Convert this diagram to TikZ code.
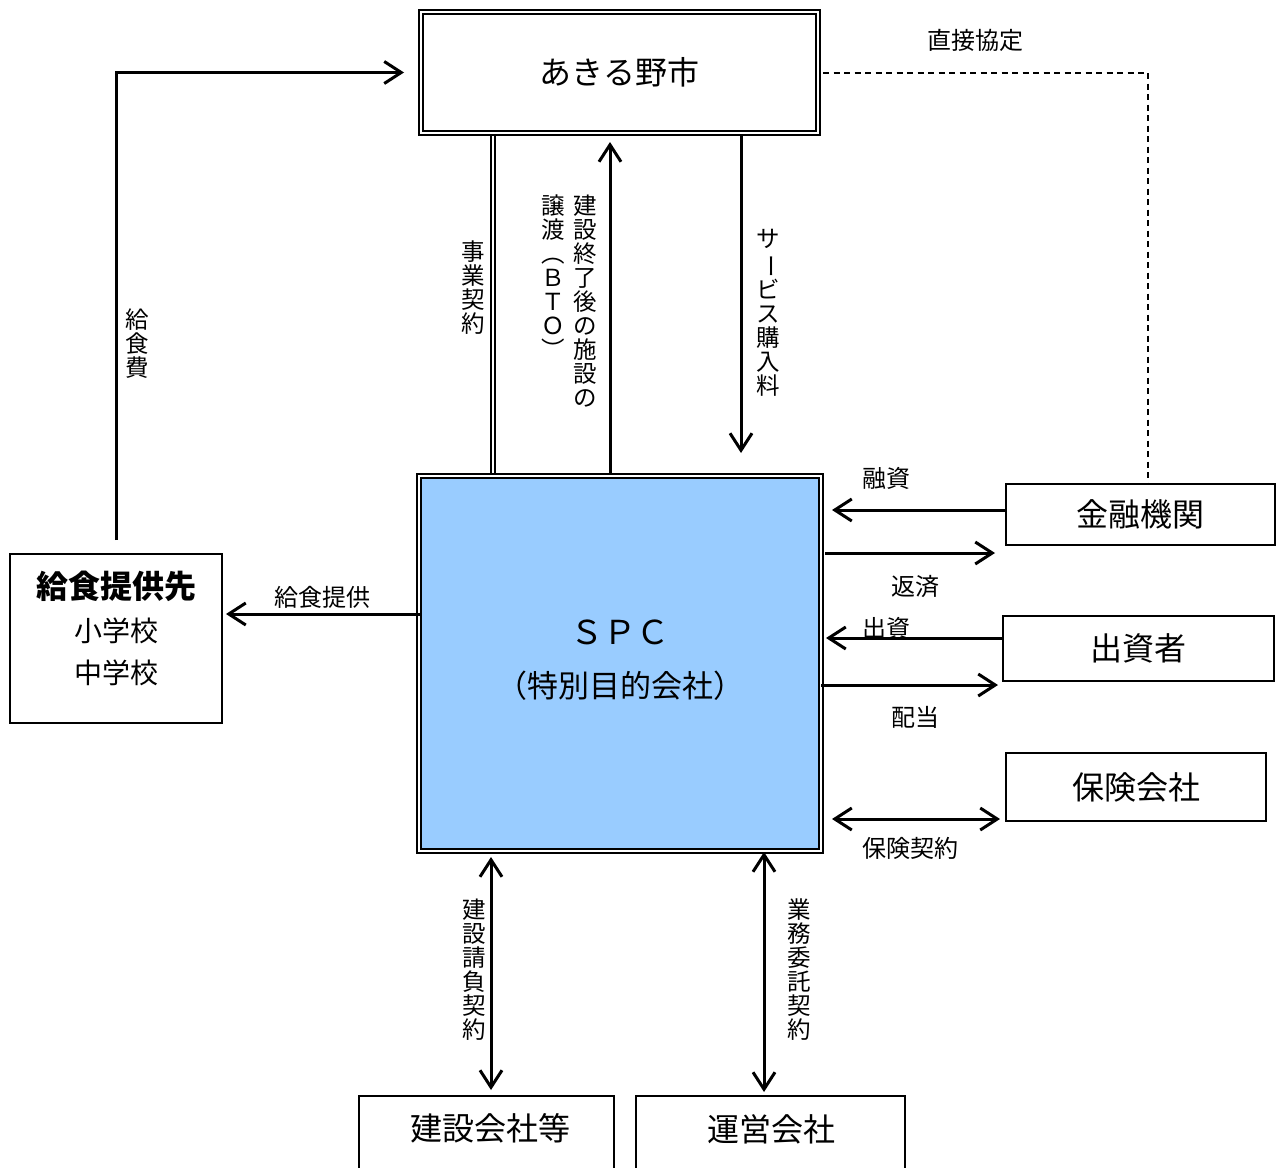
\documentclass[tikz,border=0pt]{standalone}
\usepackage{fontspec}
\setmainfont{Noto Sans CJK JP}
\usepackage{graphicx}
\usetikzlibrary{arrows.meta}
\definecolor{spcblue}{HTML}{99CCFF}
\begin{document}
\begin{tikzpicture}[x=1pt,y=-1pt,
  box/.style={draw, rectangle, line width=2.6pt, inner sep=0pt, outer sep=0pt},
  dbox/.style={draw, rectangle, double, double distance=1.5pt, line width=2.6pt, inner sep=0pt, outer sep=0pt},
  arr/.style={line width=3pt, -{Straight Barb[length=17pt,width=22pt]}},
  darr/.style={line width=3pt, {Straight Barb[length=17pt,width=22pt]}-{Straight Barb[length=17pt,width=22pt]}},
  dbl/.style={double, double distance=2.5pt, line width=2pt},
  dsh/.style={line width=2pt, dash pattern=on 6pt off 4.5pt},
  big/.style={font=\fontsize{32}{34}\selectfont},
  mid/.style={font=\fontsize{28}{30}\selectfont},
  lab/.style={font=\fontsize{24}{24}\selectfont, inner sep=0pt},
  vlab/.style={font=\fontsize{23.5}{24}\selectfont, align=center, inner sep=0pt}
]
\useasboundingbox (0,0) rectangle (1284,1167);
% helper coordinates
\coordinate (x491) at (491,0);
\coordinate (x493) at (493,0);
\coordinate (x610) at (610,0);
\coordinate (x741) at (741,0);
\coordinate (x764) at (764,0);
\coordinate (x1148) at (1148,0);
\coordinate (y510) at (0,510);
\coordinate (y553) at (0,553);
\coordinate (y614) at (0,614);
\coordinate (y638) at (0,638);
\coordinate (y685) at (0,685);
\coordinate (y819) at (0,819);

% boxes
\node[dbox, minimum width=397pt, minimum height=121pt, big] (city) at (619.5,72.5) {あきる野市};
\node[dbox, fill=spcblue, minimum width=402pt, minimum height=375pt] (spc) at (620,663.5) {};
\node[font=\fontsize{33}{34}\selectfont, inner sep=0pt] (spct) at (620,632) {ＳＰＣ};
\node[font=\fontsize{31}{34}\selectfont, inner sep=0pt] (spcs) at (620,686) {（特別目的会社）};
\node[box, minimum width=212pt, minimum height=169pt] (school) at (116,638.5) {};
\node[big, inner sep=0pt] (schoolt) at (116,586) {\bfseries 給食提供先};
\node[mid, inner sep=0pt] (sch1) at (116,631) {小学校};
\node[mid, inner sep=0pt] (sch2) at (116,673) {中学校};
\node[box, minimum width=269pt, minimum height=61pt, big] (fin) at (1140.5,514.5) {金融機関};
\node[box, minimum width=271pt, minimum height=65pt, big] (inv) at (1138.5,648.5) {出資者};
\node[box, minimum width=260pt, minimum height=68pt, big] (ins) at (1136,787) {保険会社};
\node[box, minimum width=255pt, minimum height=120pt] (cons) at (486.5,1156) {};
\node[big, inner sep=0pt] (const) at (490,1128) {建設会社等};
\node[box, minimum width=269pt, minimum height=120pt] (ops) at (770.5,1156) {};
\node[big, inner sep=0pt] (opst) at (771,1129) {運営会社};

% connectors
\draw[arr, shorten <=14pt, shorten >=17pt] (school.north) |- (city.west);
\draw[dbl, shorten <=3pt, shorten >=3pt] (city.south -| x493) -- (spc.north -| x493);
\draw[arr, shorten <=3pt, shorten >=9pt] (spc.north -| x610) -- (city.south -| x610);
\draw[arr, shorten <=3pt, shorten >=23pt] (city.south -| x741) -- (spc.north -| x741);
\draw[dsh, shorten <=5pt] (city.east) -| (fin.north -| x1148);
\draw[arr, shorten >=11pt] (fin.west |- y510) -- (spc.east |- y510);
\draw[arr, shorten <=4pt, shorten >=11pt] (spc.east |- y553) -- (fin.west |- y553);
\draw[arr, shorten >=5pt] (inv.west |- y638) -- (spc.east |- y638);
\draw[arr, shorten >=5pt] (spc.east |- y685) -- (inv.west |- y685);
\draw[darr, shorten <=11pt, shorten >=6pt] (spc.east |- y819) -- (ins.west |- y819);
\draw[arr, shorten <=-2pt, shorten >=4pt] (spc.west |- y614) -- (school.east |- y614);
\draw[darr, shorten <=6pt, shorten >=6pt] (spc.south -| x491) -- (cons.north -| x491);
\draw[darr, shorten <=1pt, shorten >=4pt] (spc.south -| x764) -- (ops.north -| x764);

% labels
\node[lab] (l1) at (975,40) {直接協定};
\node[lab] (l2) at (886,478) {融資};
\node[lab] (l3) at (915,586) {返済};
\node[lab] (l4) at (886,628) {出資};
\node[lab] (l5) at (915,717) {配当};
\node[lab] (l6) at (910,848) {保険契約};
\node[lab] (l7) at (322,597) {給食提供};
\node[vlab] (v1) at (473,288) {事\\業\\契\\約};
\node[vlab] (v2) at (585,301) {建\\設\\終\\了\\後\\の\\施\\設\\の};
\node[vlab] (v3) at (553,277) {譲\\渡\\︵\\Ｂ\\Ｔ\\Ｏ\\︶};
\node[vlab] (v4) at (768,312.5) {サ\\\rotatebox[origin=c]{-90}{ー}\\ビ\\ス\\購\\入\\料};
\node[vlab] (v5) at (137,344) {給\\食\\費};
\node[vlab] (v6) at (474,970) {建\\設\\請\\負\\契\\約};
\node[vlab] (v7) at (799,970) {業\\務\\委\\託\\契\\約};
\end{tikzpicture}
\end{document}
